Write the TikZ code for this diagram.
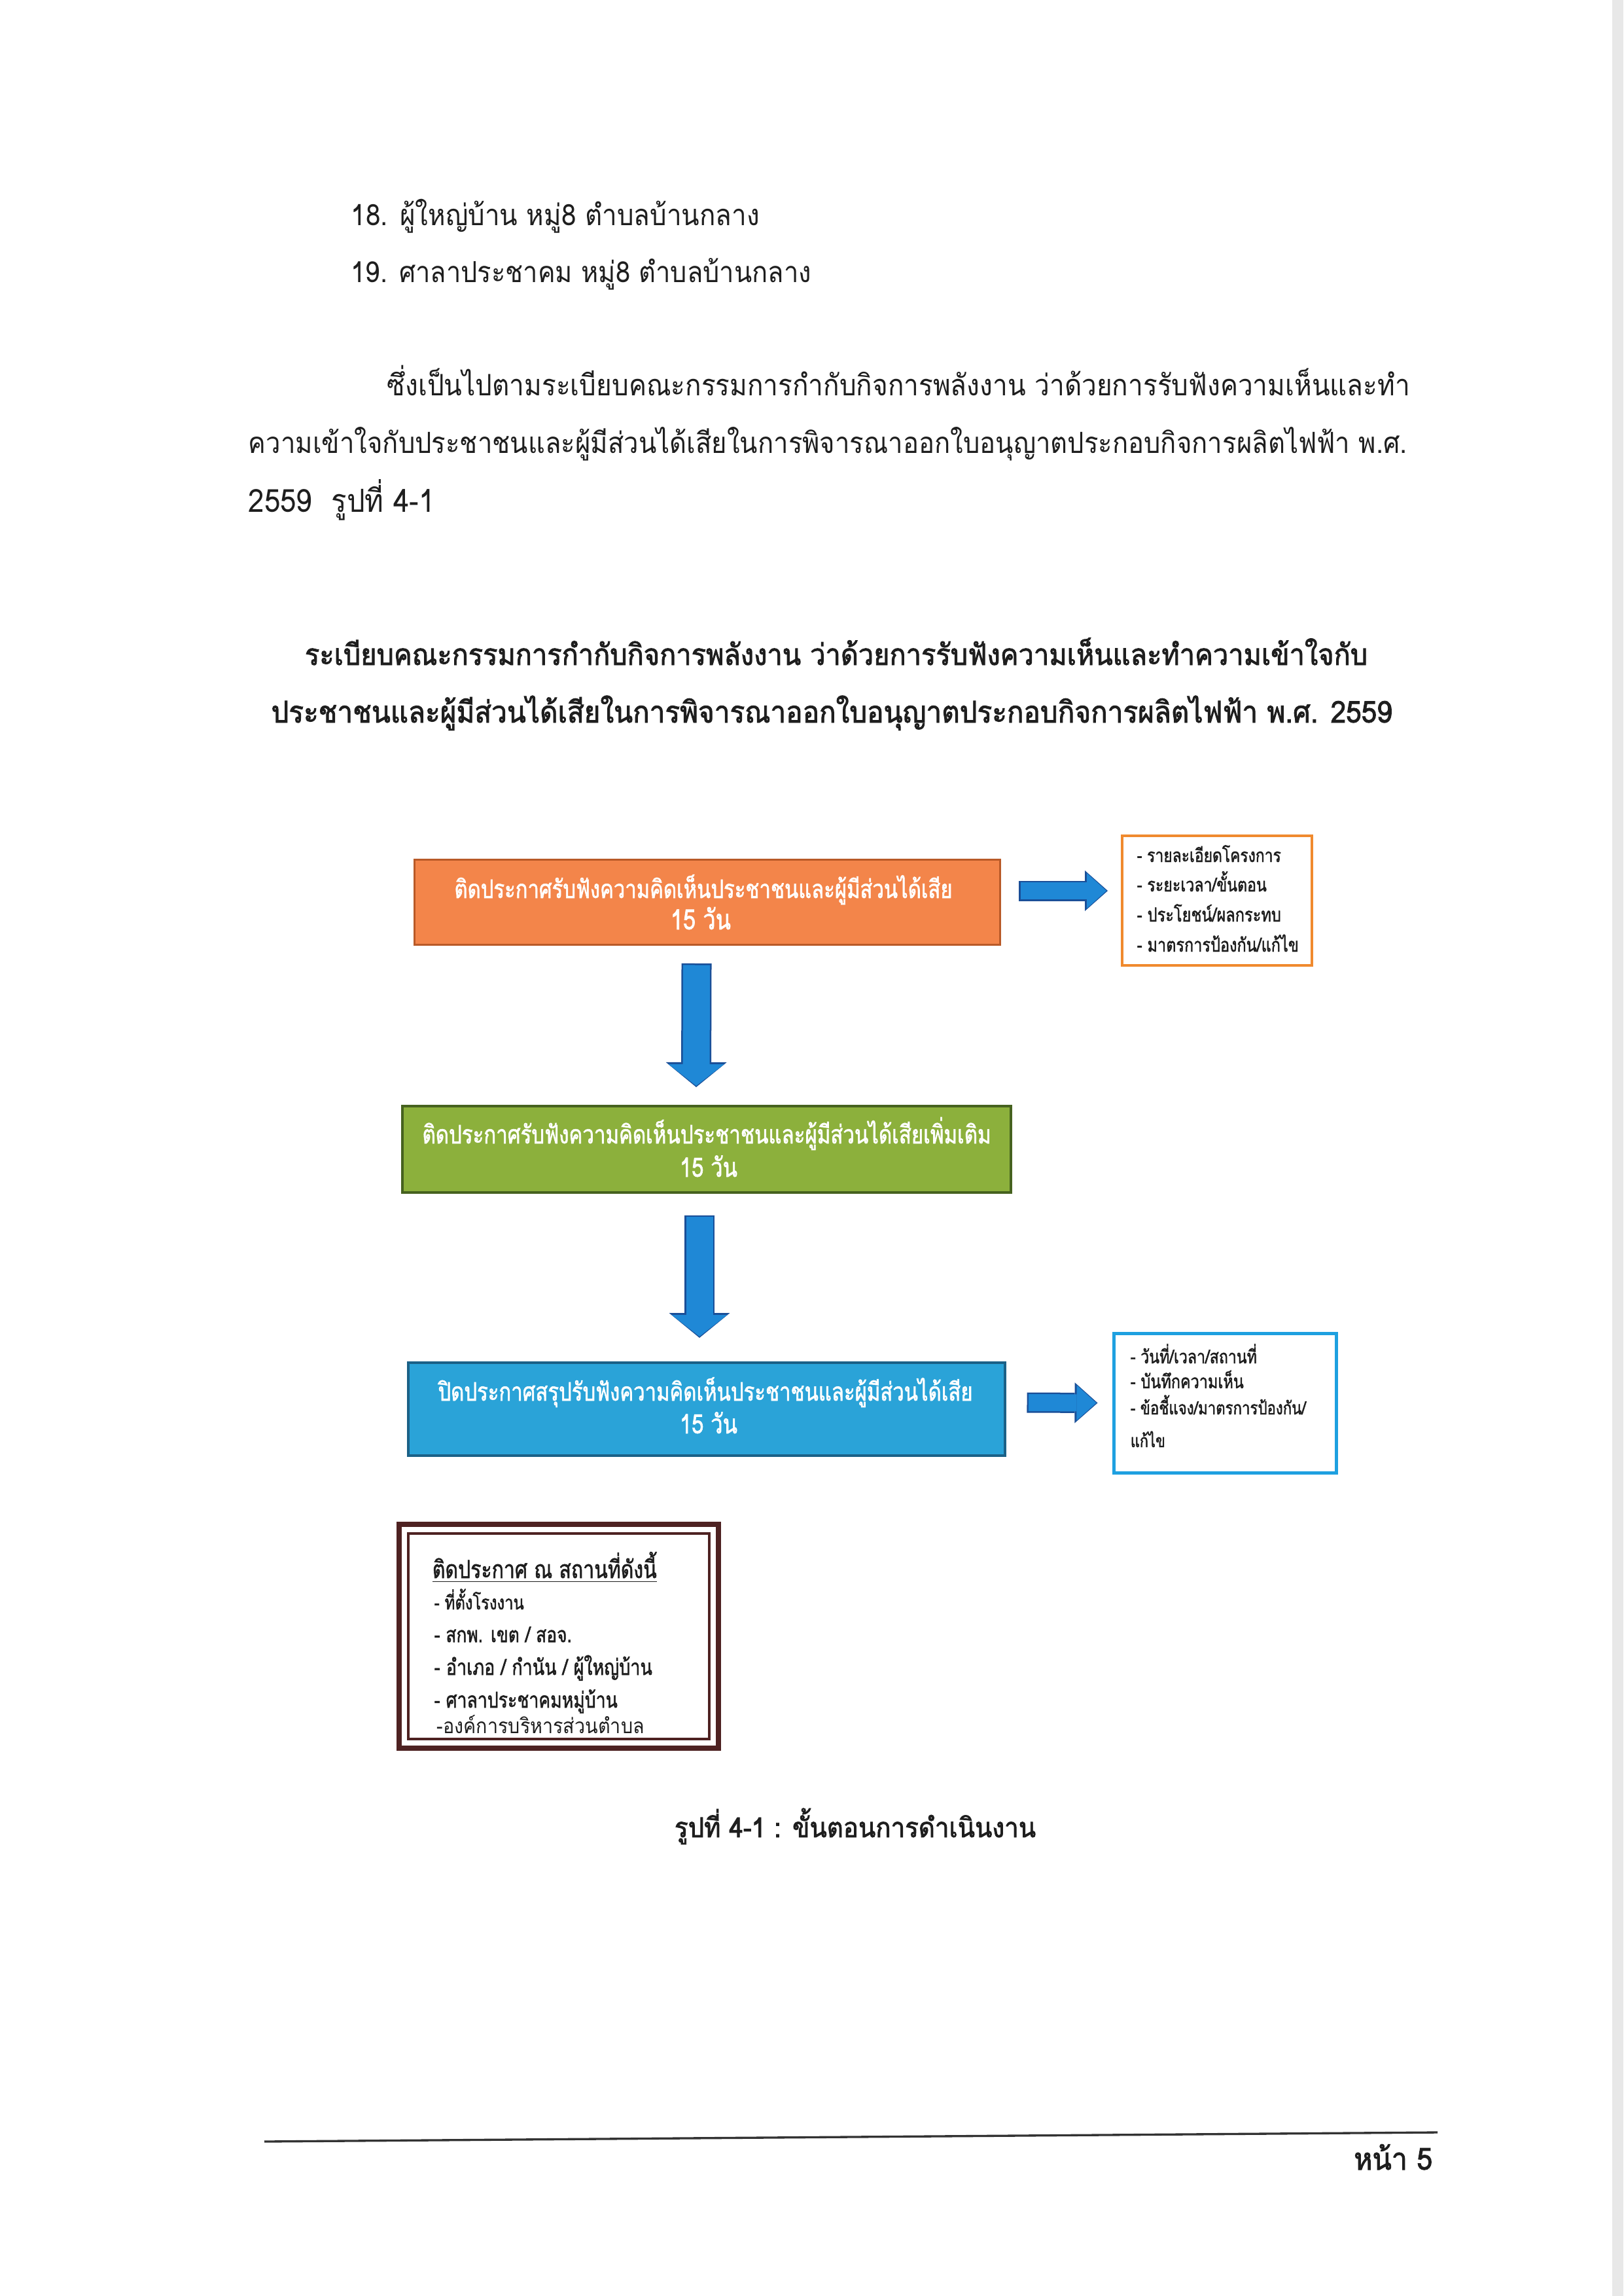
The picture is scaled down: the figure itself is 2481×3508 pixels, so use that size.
\documentclass[tikz,border=0pt]{standalone}
\usepackage{fontspec}
\usepackage{graphicx}
\usetikzlibrary{arrows.meta,calc}
\newfontfamily\thf[Script=Thai,FakeStretch=0.9]{Loma}
\newfontfamily\thfb[Script=Thai,FakeBold=2,FakeStretch=0.92]{Loma}
\newfontfamily\thfn[Script=Thai,FakeBold=1.5,FakeStretch=0.8]{Loma}
\newdimen\pxu \pxu=0.24pt
\newcommand\fw[2]{\resizebox{#1\pxu}{!}{#2}}
\definecolor{orfill}{HTML}{F3854A}
\definecolor{ordraw}{HTML}{B95A28}
\definecolor{grfill}{HTML}{8CB03C}
\definecolor{grdraw}{HTML}{46621F}
\definecolor{blfill}{HTML}{2AA3D8}
\definecolor{bldraw}{HTML}{1B6187}
\definecolor{arfill}{HTML}{1F88D6}
\definecolor{ardraw}{HTML}{1A4F98}
\definecolor{sideor}{HTML}{F08A2E}
\definecolor{sidebl}{HTML}{1EA0E0}
\definecolor{brn}{HTML}{4E2222}
\definecolor{ink}{HTML}{1E1E1E}
\begin{document}
\begin{tikzpicture}[x=0.24pt,y=-0.24pt,
  txt/.style={inner sep=0pt, anchor=base west, font=\thf\fontsize{10}{12}\selectfont, text=ink},
  txtb/.style={txt, font=\thfb\fontsize{10}{12}\selectfont},
  txtn/.style={txt, font=\thfn\fontsize{10}{12}\selectfont},
  ctxt/.style={txtn, anchor=base, text=white},
  mainbox/.style={rectangle, inner sep=0pt, line width=0.96pt},
  sidebox/.style={rectangle, inner sep=0pt, fill=white},
]
\useasboundingbox (0,0) rectangle (2481,3508);
\fill[white] (0,0) rectangle (2481,3508);
\fill[black!9] (2464,0) rectangle (2481,3508);

% body text
\node[txt] (l18) at (536,345) {\fw{624}{18. ผู้ใหญ่บ้าน หมู่8 ตำบลบ้านกลาง}};
\node[txt] (l19) at (536,432) {\fw{703}{19. ศาลาประชาคม หมู่8 ตำบลบ้านกลาง}};
\node[txt] (p1) at (591,605) {\fw{1563}{ซึ่งเป็นไปตามระเบียบคณะกรรมการกำกับกิจการพลังงาน ว่าด้วยการรับฟังความเห็นและทำ}};
\node[txt] (p2) at (379,693) {\fw{1771}{ความเข้าใจกับประชาชนและผู้มีส่วนได้เสียในการพิจารณาออกใบอนุญาตประกอบกิจการผลิตไฟฟ้า พ.ศ.}};
\node[txt] (p3) at (379,783) {\fw{285}{2559\ \ รูปที่ 4-1}};

% heading
\node[txtb, anchor=base] (h1) at (1278,1016) {\fw{1624}{ระเบียบคณะกรรมการกำกับกิจการพลังงาน ว่าด้วยการรับฟังความเห็นและทำความเข้าใจกับ}};
\node[txtb, anchor=base] (h2) at (1271,1104) {\fw{1713}{ประชาชนและผู้มีส่วนได้เสียในการพิจารณาออกใบอนุญาตประกอบกิจการผลิตไฟฟ้า พ.ศ. 2559}};

% main boxes
\node[mainbox, fill=orfill, draw=ordraw, line width=0.72pt, minimum width=214.8pt, minimum height=31.2pt] (orange) at (1080.5,1378) {};
\node[mainbox, fill=grfill, draw=grdraw, minimum width=223.2pt, minimum height=31.68pt] (green) at (1080,1756) {};
\node[mainbox, fill=blfill, draw=bldraw, minimum width=218.88pt, minimum height=34.08pt] (blue) at (1080,2153) {};

\node[ctxt] (o1) at (1075,1372) {\fw{761}{ติดประกาศรับฟังความคิดเห็นประชาชนและผู้มีส่วนได้เสีย}};
\node[ctxt] (o2) at (1071,1420) {\fw{92}{15 วัน}};
\node[ctxt] (g1) at (1080,1747) {\fw{869}{ติดประกาศรับฟังความคิดเห็นประชาชนและผู้มีส่วนได้เสียเพิ่มเติม}};
\node[ctxt] (g2) at (1083,1798) {\fw{88}{15 วัน}};
\node[ctxt] (b1) at (1078,2140) {\fw{817}{ปิดประกาศสรุปรับฟังความคิดเห็นประชาชนและผู้มีส่วนได้เสีย}};
\node[ctxt] (b2) at (1083,2190) {\fw{88}{15 วัน}};

% side boxes
\node[sidebox, draw=sideor, line width=0.96pt, minimum width=69.6pt, minimum height=47.52pt] (oside) at (1860,1376) {};
\node[sidebox, draw=sidebl, line width=1.2pt, minimum width=81.6pt, minimum height=51.12pt] (bside) at (1872,2143.5) {};

\node[txtn] (os1) at (1737,1317) {\fw{220}{- รายละเอียดโครงการ}};
\node[txtn] (os2) at (1737,1362) {\fw{198}{- ระยะเวลา/ขั้นตอน}};
\node[txtn] (os3) at (1737,1408) {\fw{220}{- ประโยชน์/ผลกระทบ}};
\node[txtn] (os4) at (1737,1454) {\fw{247}{- มาตรการป้องกัน/แก้ไข}};

\node[txtn] (bs1) at (1727,2083) {\fw{193}{- วันที่/เวลา/สถานที่}};
\node[txtn] (bs2) at (1727,2121) {\fw{173}{- บันทึกความเห็น}};
\node[txtn] (bs3) at (1727,2161) {\fw{268}{- ข้อชี้แจง/มาตรการป้องกัน/}};
\node[txtn] (bs4) at (1727,2211) {\fw{53}{แก้ไข}};

% double-framed box
\node[rectangle, inner sep=0pt, draw=brn, line width=1.9pt, minimum width=117.12pt, minimum height=82.08pt] (dbox) at (854,2500) {};
\node[rectangle, inner sep=0pt, draw=brn, line width=0.9pt, minimum width=110.4pt, minimum height=75.36pt] (dinner) at (dbox.center) {};
\node[txtn] (d0) at (660,2411) {\fw{343}{\underline{ติดประกาศ ณ สถานที่ดังนี้}}};
\node[txtn] (d1) at (663,2459) {\fw{137}{- ที่ตั้งโรงงาน}};
\node[txtn] (d2) at (663,2509) {\fw{210}{- สกพ. เขต / สอจ.}};
\node[txtn] (d3) at (663,2559) {\fw{333}{- อำเภอ / กำนัน / ผู้ใหญ่บ้าน}};
\node[txtn] (d4) at (663,2609) {\fw{280}{- ศาลาประชาคมหมู่บ้าน}};
\node[txt] (d5) at (667,2648) {\fw{317}{-องค์การบริหารส่วนตำบล}};

% block arrows
\draw[line width=11.04pt, ardraw, shorten <=-0.6pt, -{Triangle[width=22.32pt,length=9.12pt,line width=0pt]}]
  ($(orange.south)+(-16,30)$) -- ($(green.north)+(-16,-27)$);
\draw[line width=9.84pt, arfill, -{Triangle[width=20.4pt,length=7.92pt,line width=0pt]}]
  ($(orange.south)+(-16,30)$) -- ($(green.north)+(-16,-29)$);

\draw[line width=11.04pt, ardraw, shorten <=-0.6pt, -{Triangle[width=22.32pt,length=9.12pt,line width=0pt]}]
  ($(green.south)+(-11,35)$) -- ($(blue.north)+(-11,-36)$);
\draw[line width=9.84pt, arfill, -{Triangle[width=20.4pt,length=7.92pt,line width=0pt]}]
  ($(green.south)+(-11,35)$) -- ($(blue.north)+(-11,-38)$);

\draw[line width=7.44pt, ardraw, shorten <=-0.6pt, -{Triangle[width=14.88pt,length=8.4pt,line width=0pt]}]
  ($(orange.east)+(30,-17)$) -- ($(oside.west)+(-20,-15)$);
\draw[line width=6.24pt, arfill, -{Triangle[width=12.96pt,length=7.2pt,line width=0pt]}]
  ($(orange.east)+(30,-17)$) -- ($(oside.west)+(-22,-15)$);

\draw[line width=7.44pt, ardraw, shorten <=-0.6pt, -{Triangle[width=14.88pt,length=8.4pt,line width=0pt]}]
  ($(blue.east)+(34,-10)$) -- ($(bside.west)+(-22,0)$);
\draw[line width=6.24pt, arfill, -{Triangle[width=12.96pt,length=7.2pt,line width=0pt]}]
  ($(blue.east)+(34,-10)$) -- ($(bside.west)+(-24,0)$);

% caption
\node[txtb, anchor=base] (cap) at (1307,2807) {\fw{552}{รูปที่ 4-1 : ขั้นตอนการดำเนินงาน}};

% footer
\coordinate (fl) at (404,3272);
\coordinate (fr) at (2197,3258);
\draw[line width=0.8pt, black!80] (fl) -- (fr);
\node[txtb, anchor=base east] (pg) at (2190,3315) {\fw{120}{หน้า 5}};
\end{tikzpicture}
\end{document}
